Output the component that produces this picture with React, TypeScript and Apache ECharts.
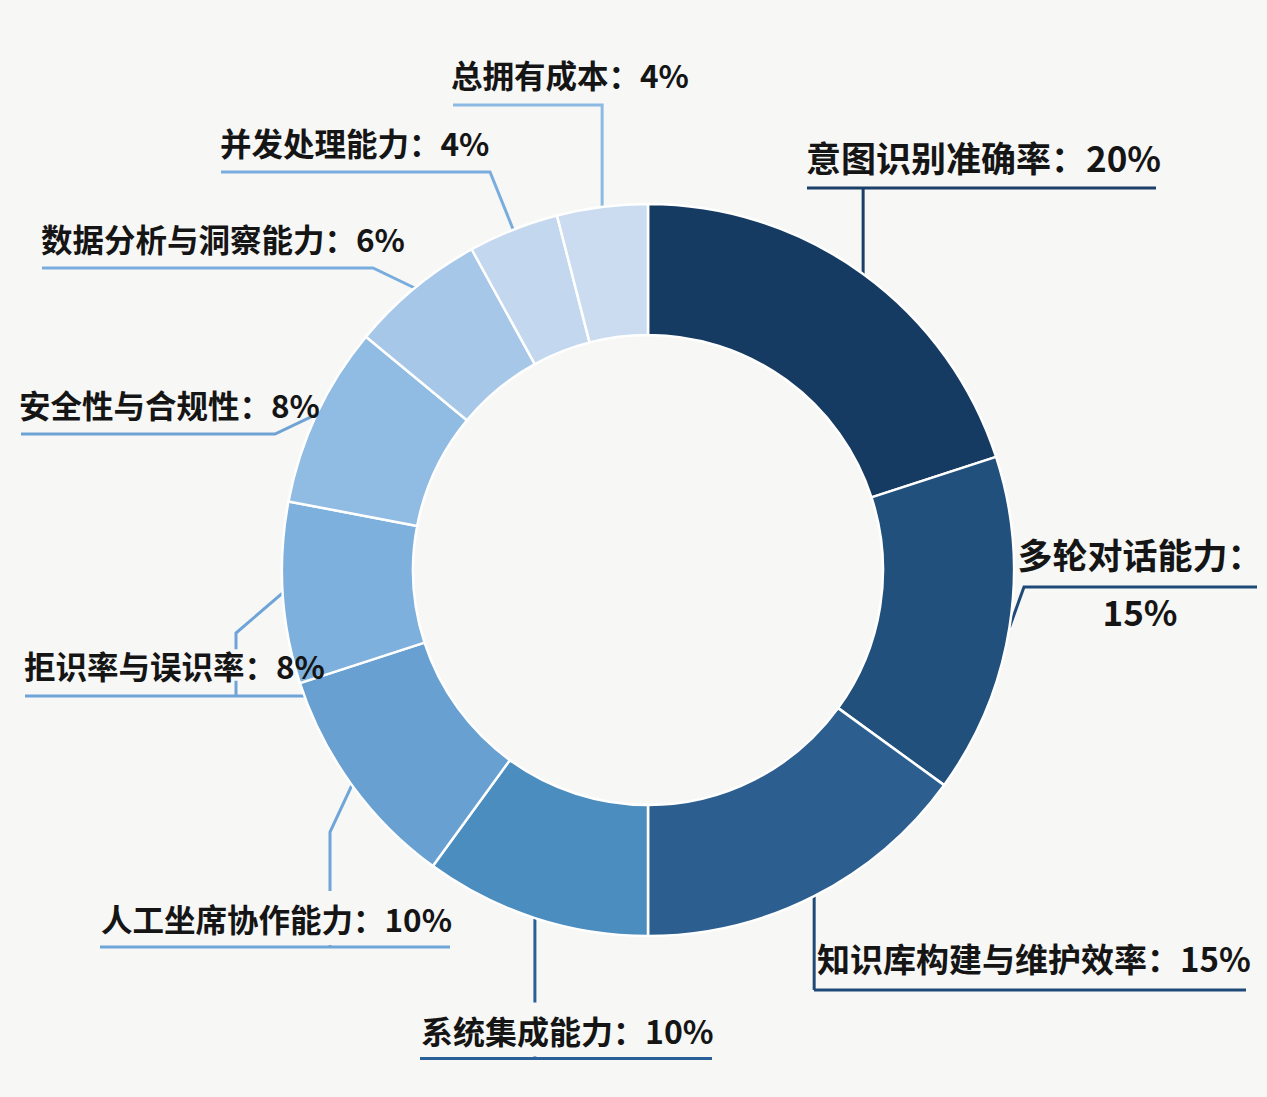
import React, { useEffect, useRef } from 'react';
import * as echarts from 'echarts';

const categories = [
  '意图识别准确率',
  '多轮对话能力',
  '知识库构建与维护效率',
  '系统集成能力',
  '人工坐席协作能力',
  '拒识率与误识率',
  '安全性与合规性',
  '数据分析与洞察能力',
  '并发处理能力',
  '总拥有成本',
];
const values = [20, 15, 15, 10, 10, 8, 8, 6, 4, 4];

const sliceColors = [
  '#163b63', '#22507c', '#2c5f90', '#4c8dc0', '#68a0d1',
  '#7db0dc', '#90bbe2', '#a6c7e7', '#c3d7ee', '#cbdcf0',
];
const leaderColors = [
  '#1c3f69', '#1f4a78', '#1f4a78', '#2a5f98', '#6fa5d8',
  '#6ea4d7', '#6fa3d6', '#79addd', '#79addd', '#8dbae2',
];

type Place = {
  tx: number; ty: number; fs: number; align: 'left' | 'center';
  ex: number | null; via: number[][]; uy: number; u0: number; u1: number | null;
  cover: 'none' | 'all' | 'name'; twoLine?: boolean;
};

// label placement (layout only)
const placements: Place[] = [
  { tx: 806, ty: 156, fs: 35, align: 'left', ex: null, via: [], uy: 188, u0: 807, u1: 1156, cover: 'none' },
  { tx: 1140, ty: 582, fs: 35, align: 'center', ex: 1024, via: [], uy: 587, u0: 1024, u1: 1257, cover: 'none', twoLine: true },
  { tx: 817, ty: 958, fs: 33, align: 'left', ex: null, via: [], uy: 990, u0: 814, u1: 1246, cover: 'none' },
  { tx: 419, ty: 1029.5, fs: 32, align: 'left', ex: null, via: [], uy: 1058.5, u0: 420, u1: 712, cover: 'all' },
  { tx: 99, ty: 918, fs: 31.5, align: 'left', ex: 330, via: [[330, 832]], uy: 947, u0: 100, u1: 450, cover: 'all' },
  { tx: 24, ty: 665, fs: 31.5, align: 'left', ex: 236, via: [[236, 633]], uy: 696, u0: 25, u1: 305, cover: 'name' },
  { tx: 19, ty: 404, fs: 31.5, align: 'left', ex: 275, via: [], uy: 434, u0: 21, u1: 275, cover: 'none' },
  { tx: 41, ty: 238, fs: 31.5, align: 'left', ex: 373, via: [], uy: 268, u0: 42, u1: 373, cover: 'none' },
  { tx: 220, ty: 142, fs: 31.5, align: 'left', ex: 490, via: [], uy: 172, u0: 221, u1: 490, cover: 'none' },
  { tx: 451, ty: 74, fs: 31.5, align: 'left', ex: null, via: [], uy: 105, u0: 453, u1: null, cover: 'none' },
];

const BG = '#f7f7f6';
const FONT = "'Noto Sans CJK SC', 'Noto Sans', sans-serif";
const TEXT = '#151515';

export default function App() {
  const ref = useRef<HTMLDivElement>(null);
  useEffect(() => {
    document.body.style.margin = '0';
    document.body.style.background = BG;
    const chart = echarts.init(ref.current!, null, { renderer: 'svg' });
    const data = categories.map((name, i) => {
      const pl = placements[i];
      let label: any = { fontSize: pl.fs };
      if (pl.twoLine) {
        label = { ...label, formatter: '{b}：\n{c}%', lineHeight: 57, align: 'center' };
      } else if (pl.cover === 'all') {
        label = { ...label, formatter: '{b}：{c}%', backgroundColor: BG, padding: [8, 2, 12, 2], lineHeight: 34 };
      } else if (pl.cover === 'name') {
        const tok = { fontSize: pl.fs, fontWeight: 'bold', fontFamily: FONT, color: TEXT, lineHeight: 58 };
        label = {
          ...label,
          formatter: '{n|{b}}{v|：{c}%}',
          rich: { n: { ...tok, backgroundColor: BG }, v: { ...tok } },
        };
      } else {
        label = { ...label, formatter: '{b}：{c}%' };
      }
      return {
        name,
        value: values[i],
        itemStyle: { color: sliceColors[i] },
        label,
        labelLine: { lineStyle: { color: leaderColors[i], width: 3 } },
      };
    });

    chart.setOption({
      animation: false,
      backgroundColor: BG,
      series: [
        {
          type: 'pie',
          center: [648, 570],
          radius: [235, 366],
          startAngle: 90,
          clockwise: true,
          avoidLabelOverlap: false,
          itemStyle: { borderColor: '#ffffff', borderWidth: 2.5 },
          label: {
            show: true,
            position: 'outside',
            overflow: 'none',
            fontFamily: FONT,
            fontSize: 32,
            fontWeight: 'bold',
            color: TEXT,
            lineHeight: 40,
          },
          labelLine: { show: true, length: 10, length2: 10, smooth: false, lineStyle: { width: 3 } },
          emphasis: { disabled: true },
          labelLayout: (params: any) => {
            const pl = placements[params.dataIndex];
            const base: any = { x: pl.tx, y: pl.ty, align: pl.align, verticalAlign: 'middle' };
            const pts = params.labelLinePoints;
            if (!pts) return base;
            const p0 = pts[0];
            const ex = pl.ex == null ? p0[0] : pl.ex;
            const u1 = pl.u1 == null ? ex : pl.u1;
            base.labelLinePoints = [
              [p0[0], p0[1]],
              ...pl.via.map((p) => [p[0], p[1]]),
              [ex, pl.uy],
              [pl.u0, pl.uy],
              [u1, pl.uy],
            ];
            return base;
          },
          data,
        },
      ],
    });
    return () => chart.dispose();
  }, []);
  return <div ref={ref} style={{ width: 1267, height: 1097 }} />;
}
